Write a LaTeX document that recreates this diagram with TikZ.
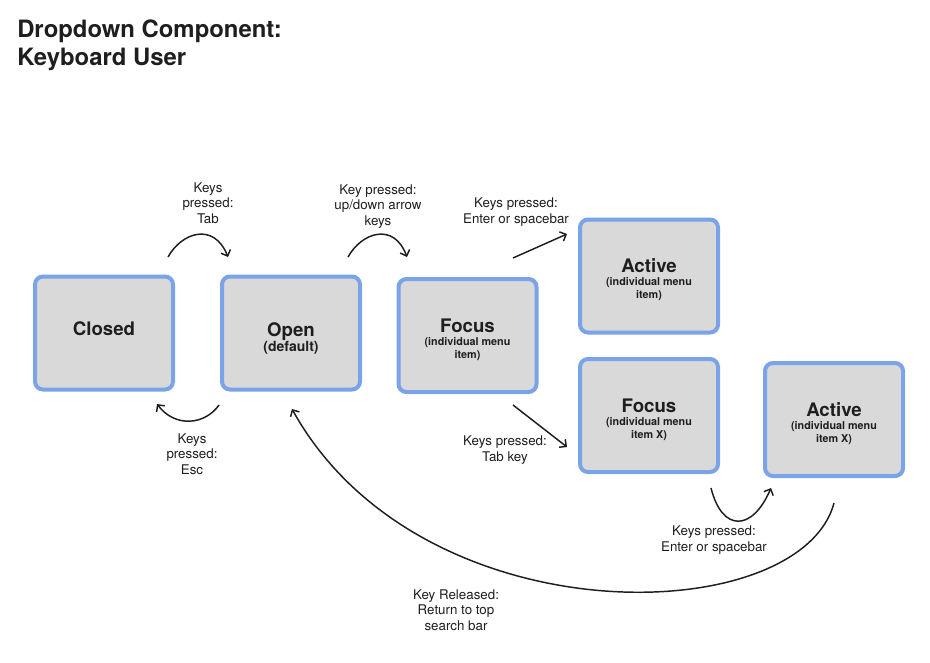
\documentclass[tikz,border=0pt]{standalone}
\usepackage{fontspec}
\setmainfont{TeX Gyre Heros}
\usetikzlibrary{arrows.meta}
\definecolor{boxblue}{RGB}{122,163,232}
\definecolor{boxgray}{RGB}{217,217,217}
\definecolor{ink}{RGB}{30,30,30}
\begin{document}
\begin{tikzpicture}[x=0.75pt,y=-0.75pt,
  statebox/.style={draw=boxblue, fill=boxgray, line width=3pt, rounded corners=6pt,
    minimum width=103.5pt, minimum height=84.75pt, inner sep=0pt},
  statebig/.style={text=ink, align=center, inner sep=0pt, font=\fontsize{14}{16}\selectfont\bfseries},
  statesub/.style={text=ink, align=center, inner sep=0pt, font=\fontsize{8.1}{9.75}\selectfont\bfseries},
  keylabel/.style={text=ink, align=center, inner sep=0pt, font=\fontsize{10}{11.6}\selectfont},
  titletext/.style={text=ink, anchor=base west, inner sep=0pt, font=\fontsize{17.9}{21}\selectfont\bfseries},
  flow/.style={draw=ink, line width=1.1pt, -{Straight Barb[length=3.8pt,width=7.6pt]}}]
\useasboundingbox (0,0) rectangle (930,662);
\fill[white] (0,0) rectangle (930,662);

% title
\node[titletext] (title1) at (17,37) {Dropdown Component:};
\node[titletext] (title2) at (17,65) {Keyboard User};

% boxes
\node[statebox] (closed) at (104,333) {};
\node[statebox] (open) at (291,333) {};
\node[statebox] (focusA) at (467.5,335.5) {};
\node[statebox] (activeA) at (649,276) {};
\node[statebox] (focusB) at (649,415.5) {};
\node[statebox] (activeB) at (834,419.5) {};

% box texts
\node[statebig] (closedT) at (104,329) {Closed};
\node[statesub, font=\fontsize{10.5}{11.25}\selectfont\bfseries] (openT) at (291,338.5) {{\fontsize{14}{16}\selectfont Open}\\(default)};
\node[statesub] (focusAT) at (467.5,340) {{\fontsize{14}{16}\selectfont Focus}\\(individual menu\\item)};
\node[statesub] (activeAT) at (649,280) {{\fontsize{14}{16}\selectfont Active}\\(individual menu\\item)};
\node[statesub] (focusBT) at (649,420) {{\fontsize{14}{16}\selectfont Focus}\\(individual menu\\item X)};
\node[statesub] (activeBT) at (834,423.5) {{\fontsize{14}{16}\selectfont Active}\\(individual menu\\item X)};

% connector end points
\coordinate (a1s) at (168,257);
\coordinate (a1e) at (228,257);
\coordinate (a2s) at (348,257);
\coordinate (a2e) at (407,257);
\coordinate (a3s) at (513,258);
\coordinate (a3e) at (567,234);
\coordinate (a4s) at (219,405);
\coordinate (a4e) at (157,404);
\coordinate (a5s) at (513,405);
\coordinate (a5e) at (567,447);
\coordinate (a6s) at (711,488);
\coordinate (a6e) at (771,488);
\coordinate (a7s) at (834,503);
\coordinate (a7e) at (292,409);

% connectors
\draw[flow] (a1s) .. controls (182,232) and (214,222) .. (a1e);
\draw[flow] (a2s) .. controls (362,232) and (394,222) .. (a2e);
\draw[flow] (a3s) -- (a3e);
\draw[flow] (a4s) .. controls (205,425) and (175,428) .. (a4e);
\draw[flow] (a5s) -- (a5e);
\draw[flow] (a6s) .. controls (722,532) and (752,532) .. (a6e);
\draw[flow] (a7s) .. controls (800,630) and (420,640) .. (a7e);

% labels
\node[keylabel] (l1) at (208,203) {Keys\\pressed:\\Tab};
\node[keylabel] (l2) at (378,206.5) {Key pressed:\\up/down arrow\\keys};
\node[keylabel] (l3) at (516,212) {Keys pressed:\\Enter or spacebar};
\node[keylabel] (l4) at (192,454) {Keys\\pressed:\\Esc};
\node[keylabel] (l5) at (505,450) {Keys pressed:\\Tab key};
\node[keylabel] (l6) at (714,540) {Keys pressed:\\Enter or spacebar};
\node[keylabel] (l7) at (456,610) {Key Released:\\Return to top\\search bar};
\end{tikzpicture}
\end{document}
